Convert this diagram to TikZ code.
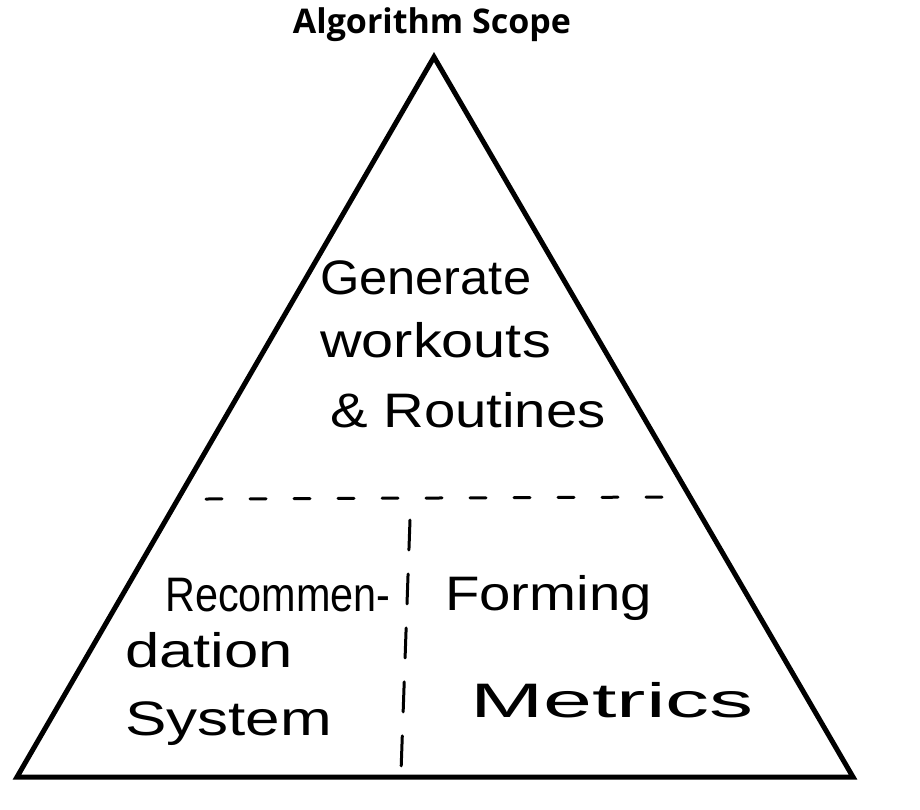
\documentclass[tikz,border=0pt]{standalone}
\usepackage{fontspec}
\usepackage{graphicx}
\newfontfamily\titlefont{Open Sans}
\newfontfamily\handfont{Liberation Sans}
\begin{document}
\begin{tikzpicture}[x=1pt,y=-1pt,
  edge/.style={line width=5pt,line join=miter},
  divider/.style={line width=3pt,dash pattern=on 16pt off 28pt,line cap=round},
  vdivider/.style={line width=3pt,dash pattern=on 30pt off 24pt,line cap=round},
  hand/.style={font=\handfont\fontsize{44}{50}\selectfont,align=left,inner sep=0pt},
  titlestyle/.style={font=\titlefont\bfseries\fontsize{34}{38}\selectfont,inner sep=0pt}]
\useasboundingbox (0,0) rectangle (920,809);
\coordinate (apex) at (434,57);
\coordinate (bl) at (17,777);
\coordinate (br) at (853,777);
\draw[edge] (apex) -- (bl) -- (br) -- cycle;
\node[titlestyle] (title) at (432,25) {Algorithm Scope};
\coordinate (hl) at (206,499);
\coordinate (hr) at (668,497);
\draw[divider] (hl) -- (hr);
\coordinate (vt) at (410,520);
\coordinate (vb) at (401,772);
\draw[vdivider] (vt) -- (vb);
\node[hand,anchor=west] (gen) at (320,278) {\scalebox{1.15}[1.1]{Generate}};
\node[hand,anchor=west] (work) at (320,340) {\scalebox{1.31}[1.1]{workouts}};
\node[hand,anchor=west] (rout) at (330,410) {\scalebox{1.28}[1.1]{\& Routines}};
\node[hand,anchor=west] (rec) at (165,595) {\scalebox{0.94}[1.1]{Recommen-}};
\node[hand,anchor=west] (dat) at (125,650) {\scalebox{1.4}[1.1]{dation}};
\node[hand,anchor=west] (sys) at (125,724) {\scalebox{1.41}[1.1]{System}};
\node[hand,anchor=west] (form) at (445,598) {\scalebox{1.28}[1.1]{Forming}};
\node[hand,anchor=west] (met) at (470,700) {\scalebox{2.0}[1.1]{Metrics}};
\end{tikzpicture}
\end{document}
